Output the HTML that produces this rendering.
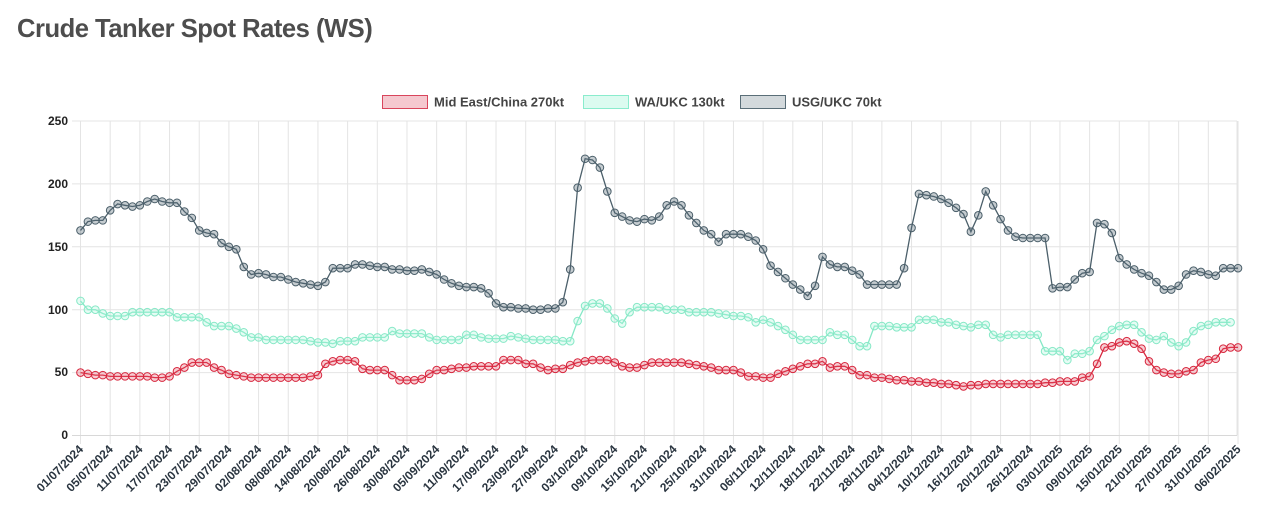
<!DOCTYPE html>
<html><head><meta charset="utf-8"><style>
html,body{margin:0;padding:0;background:#fff;width:1280px;height:523px;overflow:hidden}
svg{display:block;font-family:"Liberation Sans",Arial,sans-serif}
</style></head><body>
<svg id="c" width="1280" height="523" viewBox="0 0 1280 523" xmlns="http://www.w3.org/2000/svg">
<text x="17" y="37" font-size="25.6" font-weight="bold" fill="#4d4d4d" letter-spacing="-0.5">Crude Tanker Spot Rates (WS)</text>
<g font-size="13" font-weight="bold" fill="#444">
<rect x="382.5" y="95.5" width="45" height="13" fill="#f5c8cf" stroke="#d9455c"/>
<text x="434" y="106.5">Mid East/China 270kt</text>
<rect x="583.5" y="95.5" width="45" height="13" fill="#dcfbf0" stroke="#8aeccd"/>
<text x="635" y="106.5">WA/UKC 130kt</text>
<rect x="740.5" y="95.5" width="45" height="13" fill="#d3d9dc" stroke="#5a6e78"/>
<text x="792" y="106.5">USG/UKC 70kt</text>
</g>
<g id="grid" stroke="#e4e4e4" stroke-width="1"></g>
<g font-size="12" font-weight="bold" fill="#222" text-anchor="end">
<text x="68" y="125">250</text><text x="68" y="188">200</text><text x="68" y="251">150</text><text x="68" y="314">100</text><text x="68" y="376">50</text><text x="68" y="439">0</text>
</g>
<g font-size="12" font-weight="bold" fill="#2a3540" text-anchor="end">
<text transform="translate(84,450) rotate(-45)">01/07/2024</text>
<text transform="translate(113.7,450) rotate(-45)">05/07/2024</text>
<text transform="translate(143.4,450) rotate(-45)">11/07/2024</text>
<text transform="translate(173,450) rotate(-45)">17/07/2024</text>
<text transform="translate(202.7,450) rotate(-45)">23/07/2024</text>
<text transform="translate(232.4,450) rotate(-45)">29/07/2024</text>
<text transform="translate(262.1,450) rotate(-45)">02/08/2024</text>
<text transform="translate(291.8,450) rotate(-45)">08/08/2024</text>
<text transform="translate(321.4,450) rotate(-45)">14/08/2024</text>
<text transform="translate(351.1,450) rotate(-45)">20/08/2024</text>
<text transform="translate(380.8,450) rotate(-45)">26/08/2024</text>
<text transform="translate(410.5,450) rotate(-45)">30/08/2024</text>
<text transform="translate(440.2,450) rotate(-45)">05/09/2024</text>
<text transform="translate(469.8,450) rotate(-45)">11/09/2024</text>
<text transform="translate(499.5,450) rotate(-45)">17/09/2024</text>
<text transform="translate(529.2,450) rotate(-45)">23/09/2024</text>
<text transform="translate(558.9,450) rotate(-45)">27/09/2024</text>
<text transform="translate(588.6,450) rotate(-45)">03/10/2024</text>
<text transform="translate(618.2,450) rotate(-45)">09/10/2024</text>
<text transform="translate(647.9,450) rotate(-45)">15/10/2024</text>
<text transform="translate(677.6,450) rotate(-45)">21/10/2024</text>
<text transform="translate(707.3,450) rotate(-45)">25/10/2024</text>
<text transform="translate(737,450) rotate(-45)">31/10/2024</text>
<text transform="translate(766.6,450) rotate(-45)">06/11/2024</text>
<text transform="translate(796.3,450) rotate(-45)">12/11/2024</text>
<text transform="translate(826,450) rotate(-45)">18/11/2024</text>
<text transform="translate(855.7,450) rotate(-45)">22/11/2024</text>
<text transform="translate(885.4,450) rotate(-45)">28/11/2024</text>
<text transform="translate(915,450) rotate(-45)">04/12/2024</text>
<text transform="translate(944.7,450) rotate(-45)">10/12/2024</text>
<text transform="translate(974.4,450) rotate(-45)">16/12/2024</text>
<text transform="translate(1004.1,450) rotate(-45)">20/12/2024</text>
<text transform="translate(1033.8,450) rotate(-45)">26/12/2024</text>
<text transform="translate(1063.4,450) rotate(-45)">03/01/2025</text>
<text transform="translate(1093.1,450) rotate(-45)">09/01/2025</text>
<text transform="translate(1122.8,450) rotate(-45)">15/01/2025</text>
<text transform="translate(1152.5,450) rotate(-45)">21/01/2025</text>
<text transform="translate(1182.2,450) rotate(-45)">27/01/2025</text>
<text transform="translate(1211.8,450) rotate(-45)">31/01/2025</text>
<text transform="translate(1241.5,450) rotate(-45)">06/02/2025</text>
</g>
<g id="series"></g>
</svg>
<script>
var NS="http://www.w3.org/2000/svg";
function el(t,a,p){var e=document.createElementNS(NS,t);for(var k in a)e.setAttribute(k,a[k]);p.appendChild(e);return e;}
var g=document.getElementById('grid');
var X=function(i){return 80.5+i*7.42;}, Y=function(v){return 435.5-v*1.258;};
for(var k=0;k<40;k++){var x=X(k*4);el('line',{x1:x,y1:121,x2:x,y2:444},g);}
el('line',{x1:1237,y1:121,x2:1237,y2:435.5},g);
for(var v=0;v<=250;v+=50){el('line',{x1:72,y1:Y(v),x2:1237,y2:Y(v),stroke:v==0?'#d8d8d8':'#e4e4e4'},g);}
var gray=[163,170,171,171,179,184,183,182,183,186,188,186,185,185,178,173,163,161,160,153,150,148,134,128,129,128,126,126,124,122,121,120,119,122,133,133,133,136,136,135,134,134,132,132,131,131,132,130,128,124,121,119,118,118,117,
113,105,102,102,101,101,100,100,101,101,106,132,197,220,219,213,194,177,174,171,170,172,171,174,183,186,183,175,169,163,160,154,160,160,160,158,155,148,135,130,125,120,116,111,119,142,136,134,134,131,128,
120,120,120,120,120,133,165,192,191,190,188,185,181,176,162,175,194,183,172,163,158,157,157,157,157,117,118,118,124,129,130,169,168,161,141,136,132,129,127,122,116,116,119,128,131,130,128,127,133,133,133];
var teal=[107,100,100,97,95,95,95,98,98,98,98,98,98,94,94,94,94,90,87,87,87,85,82,78,78,76,76,76,76,76,76,75,74,74,73,75,75,75,78,78,78,78,83,81,81,81,81,78,76,76,76,76,80,80,78,
77,77,77,79,78,77,76,76,76,76,75,75,91,103,105,105,101,93,89,98,102,102,102,102,100,100,100,98,98,98,98,97,96,95,95,94,90,92,90,87,84,80,76,76,76,76,82,80,80,76,71,71,
87,87,87,86,86,86,92,92,92,90,90,88,87,86,88,88,80,78,80,80,80,80,80,67,67,67,60,65,65,67,76,79,84,87,88,88,82,77,76,79,74,71,74,83,87,88,90,90,90];
var red=[50,49,48,48,47,47,47,47,47,47,46,46,47,51,54,58,58,58,54,52,49,48,47,46,46,46,46,46,46,46,46,47,48,57,59,60,60,59,53,52,52,52,48,44,44,44,45,49,52,52,53,54,54,55,55,55,55,60,60,60,57,57,54,52,53,53,56,58,59,60,60,60,58,55,54,54,56,58,58,58,58,58,57,56,55,54,52,52,52,50,47,47,46,46,49,51,53,55,57,57,59,54,55,55,52,48,48,
46,46,45,44,44,43,43,42,42,41,41,40,39,40,40,41,41,41,41,41,41,41,41,42,42,43,43,43,46,47,57,70,71,74,75,73,69,59,52,50,49,49,51,52,58,60,61,69,70,70];
var S=document.getElementById('series');
function draw(d,stroke,fill){
 var pts=[];for(var i=0;i<d.length;i++)pts.push(X(i).toFixed(1)+','+Y(d[i]).toFixed(1));
 el('polyline',{points:pts.join(' '),fill:'none',stroke:stroke,'stroke-width':1.3},S);
 for(var i=0;i<d.length;i++)el('circle',{cx:X(i),cy:Y(d[i]),r:3.8,fill:fill,stroke:stroke,'stroke-width':1},S);
}
draw(red,'#d7263d','rgba(230,90,110,0.3)');
draw(teal,'#86e8c6','rgba(170,245,220,0.3)');
draw(gray,'#4b5f6a','rgba(90,110,120,0.35)');
</script>
</body></html>
